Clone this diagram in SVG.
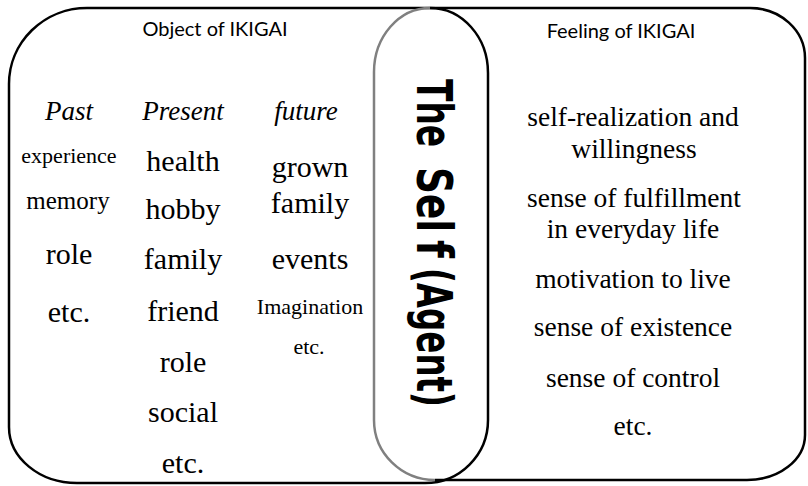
<svg xmlns="http://www.w3.org/2000/svg" width="808" height="486" viewBox="0 0 808 486">
<style>
.box{fill:none;stroke:#000;stroke-width:2.5}
.gray{fill:none;stroke:#808080;stroke-width:2.5}
text{fill:#000;text-anchor:middle}
</style>
<rect width="808" height="486" fill="#fff"/>
<g id="object-box">
<path class="box" d="M87,8 H430 A58,65 0 0 1 488,73 V420 A63,63 0 0 1 425,483 H77 A68,56 0 0 1 9,427 V84 A78,76 0 0 1 87,8 Z"/>
<text x="215" y="36" font-family="Lato" font-size="20">Object of IKIGAI</text>
<g font-family="Liberation Serif" font-size="30">
<text x="69" y="120" font-style="italic" font-size="27">Past</text>
<text x="183" y="120" font-style="italic" font-size="27">Present</text>
<text x="306" y="120" font-style="italic" font-size="27">future</text>
<text x="69" y="163" font-size="22">experience</text>
<text x="68" y="209" font-size="25">memory</text>
<text x="69" y="264">role</text>
<text x="69" y="322">etc.</text>
<text x="183" y="171">health</text>
<text x="183" y="219">hobby</text>
<text x="183" y="269">family</text>
<text x="183" y="321">friend</text>
<text x="183" y="372">role</text>
<text x="183" y="422">social</text>
<text x="183" y="473">etc.</text>
<text x="310" y="177">grown</text>
<text x="310" y="213">family</text>
<text x="310" y="269">events</text>
<text x="310" y="314" font-size="22">Imagination</text>
<text x="309" y="354" font-size="22">etc.</text>
</g>
</g>
<g id="feeling-box">
<path class="box" d="M430,8 H750 A55,50 0 0 1 805,58 V435 A58,45 0 0 1 747,480 H435"/>
<path class="gray" d="M430,8 A56,64 0 0 0 374,72 V420 A61,60 0 0 0 435,480"/>
<text x="621" y="38" font-family="Lato" font-size="20">Feeling of IKIGAI</text>
<g font-family="Liberation Serif" font-size="27.5">
<text x="633" y="126">self-realization and</text>
<text x="634" y="158">willingness</text>
<text x="634" y="207">sense of fulfillment</text>
<text x="633" y="238">in everyday life</text>
<text x="633" y="288">motivation to live</text>
<text x="633" y="336">sense of existence</text>
<text x="633" y="387">sense of control</text>
<text x="633" y="435">etc.</text>
</g>
</g>
<g id="agent" font-family="DejaVu Sans" font-weight="bold" font-size="50">
<text style="text-anchor:start" transform="rotate(90)" x="79" y="-417" textLength="68" lengthAdjust="spacingAndGlyphs">The</text>
<text style="text-anchor:start" transform="rotate(90)" x="167" y="-417" textLength="65" lengthAdjust="spacingAndGlyphs">Sel</text>
<text style="text-anchor:start" transform="rotate(90)" x="240" y="-417" textLength="18" lengthAdjust="spacingAndGlyphs">f</text>
<text style="text-anchor:start" transform="rotate(90)" x="268" y="-417" textLength="139" lengthAdjust="spacingAndGlyphs">(Agent)</text>
</g>
<g id="connectors"/>
</svg>
